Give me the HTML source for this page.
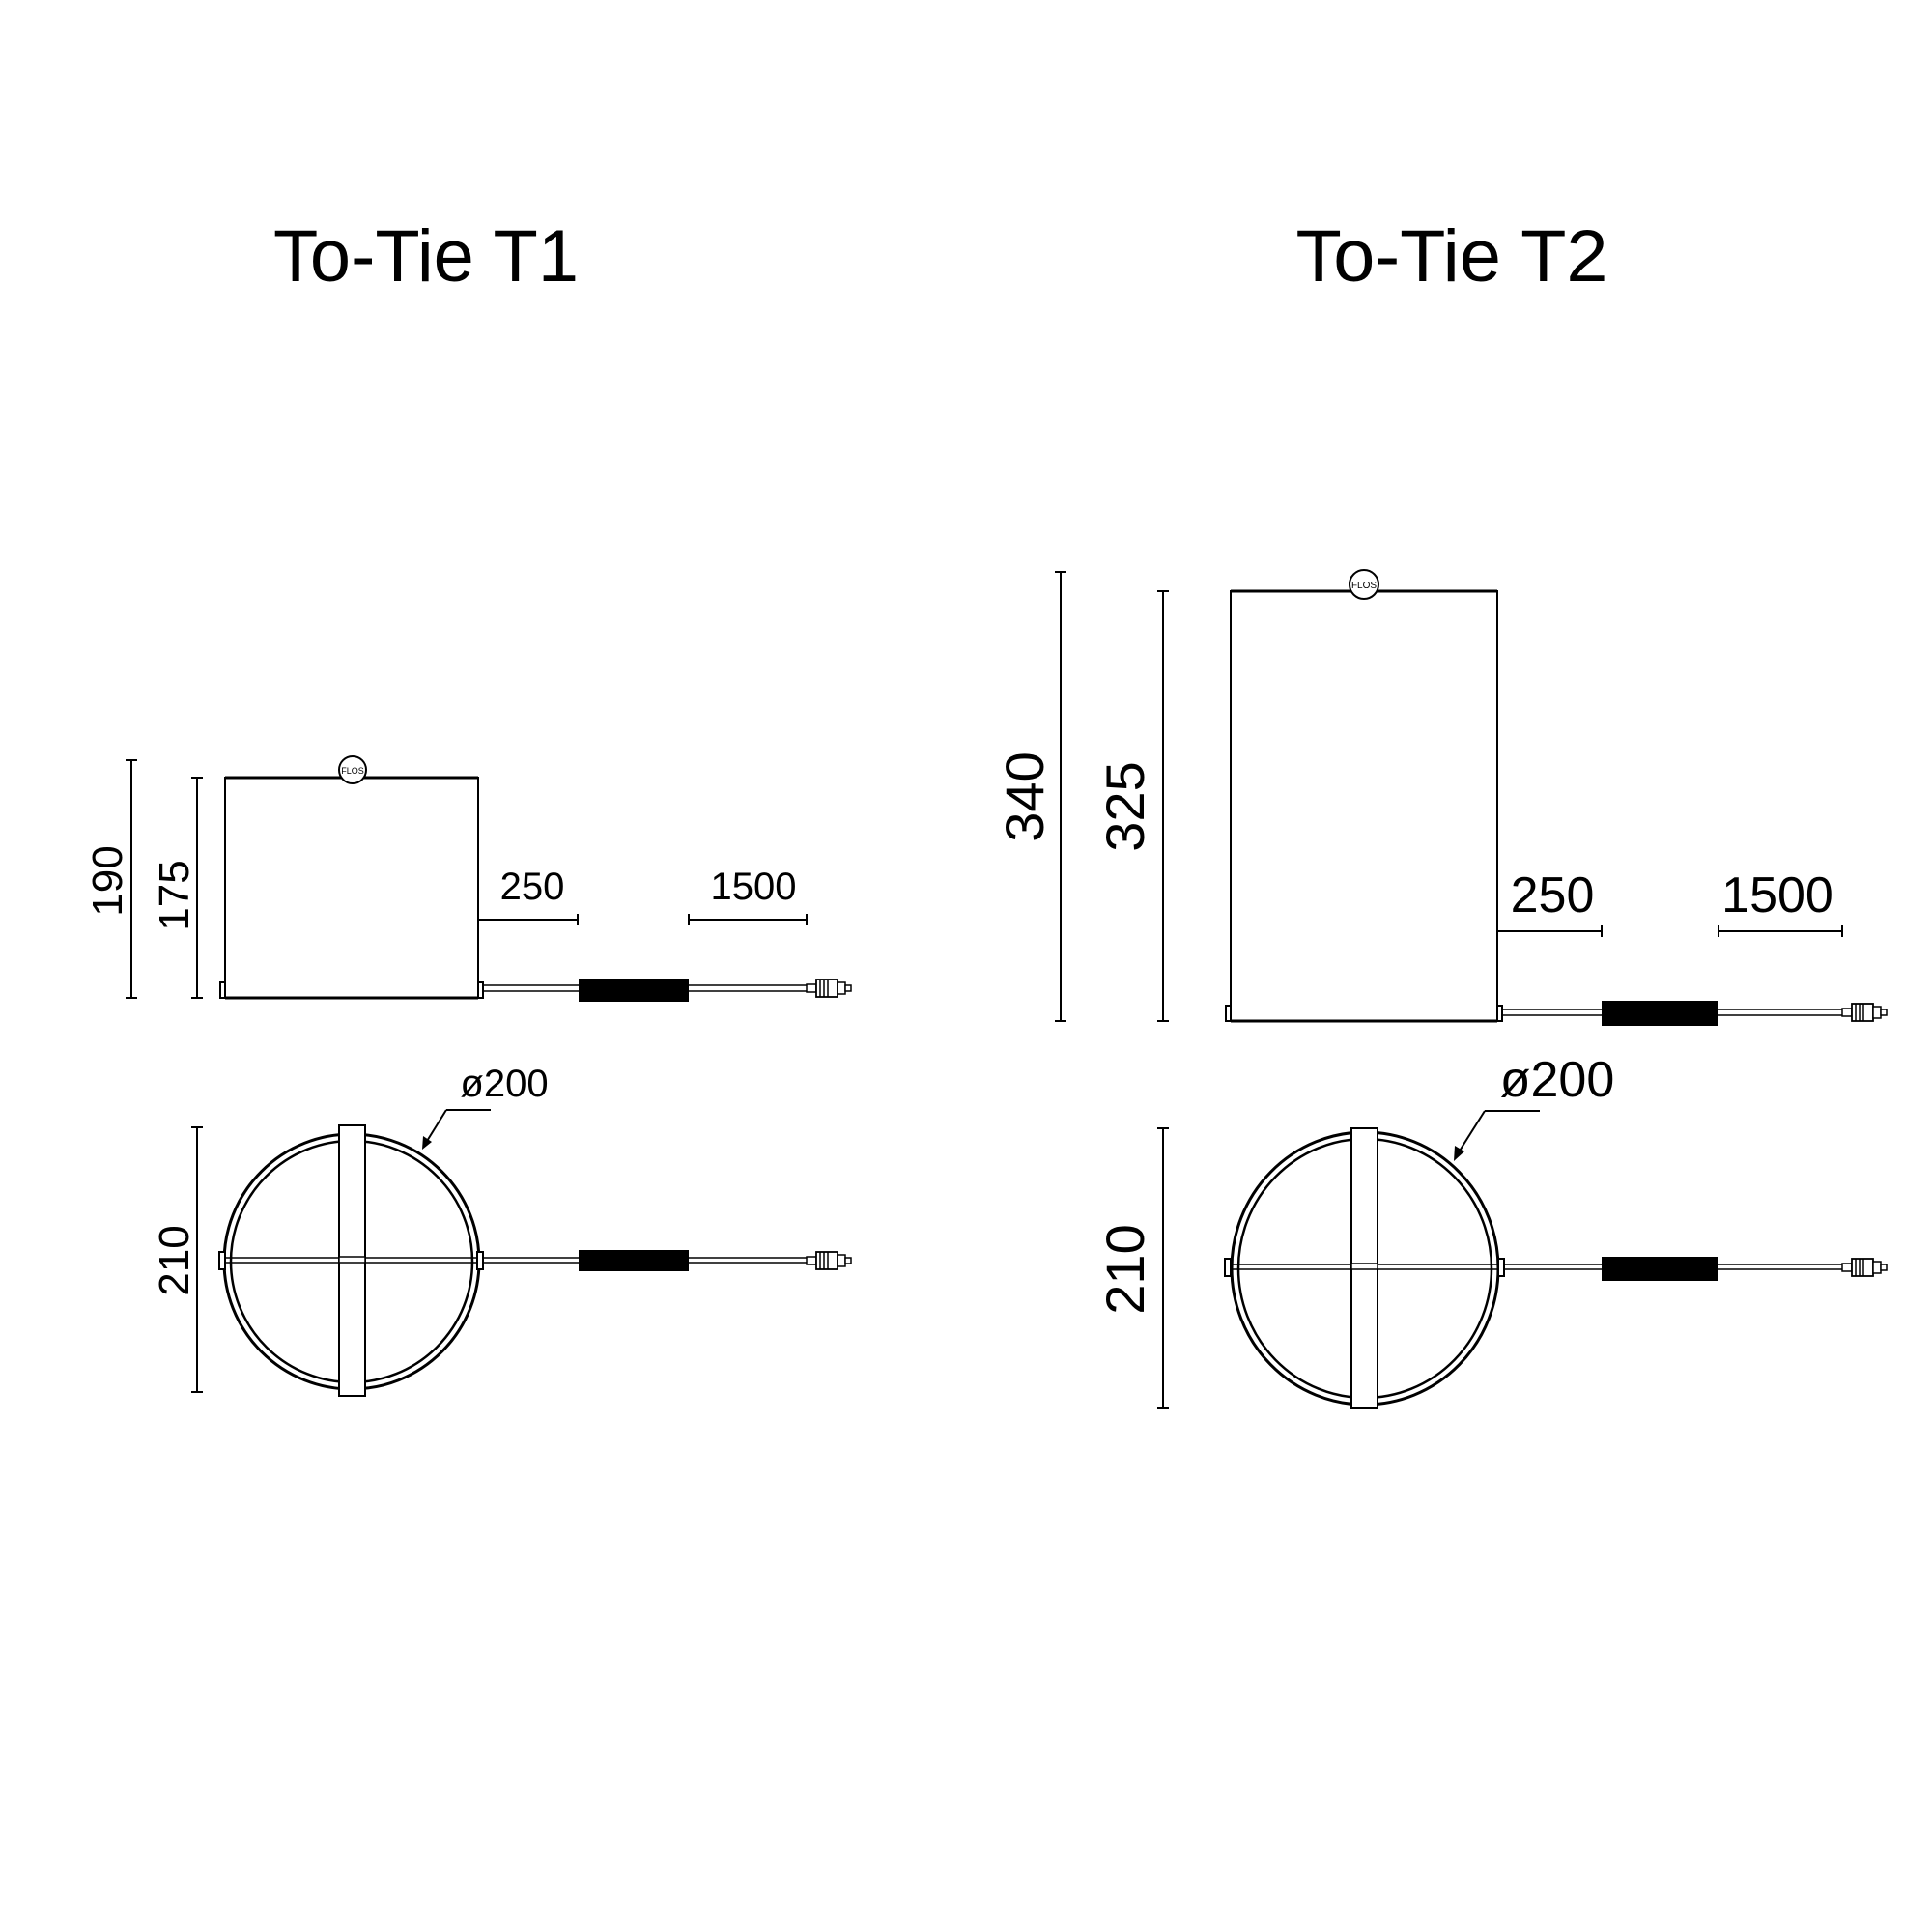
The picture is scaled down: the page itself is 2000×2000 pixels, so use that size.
<!DOCTYPE html>
<html><head><meta charset="utf-8"><style>html,body{margin:0;padding:0;background:#fff}svg{display:block}</style></head>
<body>
<svg width="2000" height="2000" viewBox="0 0 2000 2000" xmlns="http://www.w3.org/2000/svg" font-family="Liberation Sans, sans-serif" fill="none" stroke="#000">
<defs>
<g id="plug">
  <rect x="0" y="-4" width="10" height="8" fill="#fff" stroke-width="1.5"/>
  <rect x="10" y="-9" width="22" height="18" fill="#fff" stroke-width="1.8"/>
  <line x1="14" y1="-9" x2="14" y2="9" stroke-width="1.5"/>
  <line x1="18" y1="-9" x2="18" y2="9" stroke-width="1.5"/>
  <line x1="22" y1="-9" x2="22" y2="9" stroke-width="1.5"/>
  <rect x="32" y="-6" width="8" height="12" fill="#fff" stroke-width="1.5"/>
  <rect x="40" y="-3" width="6" height="6" fill="#fff" stroke-width="1.5"/>
</g>
</defs>

<!-- Titles -->
<text x="441" y="291" font-size="76" fill="#000" stroke="none" text-anchor="middle" textLength="316" lengthAdjust="spacingAndGlyphs">To-Tie T1</text>
<text x="1503" y="291" font-size="76" fill="#000" stroke="none" text-anchor="middle" textLength="323" lengthAdjust="spacingAndGlyphs">To-Tie T2</text>

<!-- ===== T1 side ===== -->
<g stroke-width="2">
  <line x1="136" y1="787" x2="136" y2="1033"/><line x1="130" y1="787" x2="142" y2="787"/><line x1="130" y1="1033" x2="142" y2="1033"/>
  <line x1="204" y1="805" x2="204" y2="1033"/><line x1="198" y1="805" x2="210" y2="805"/><line x1="198" y1="1033" x2="210" y2="1033"/>
  <rect x="233" y="805" width="262" height="228"/>
  <line x1="233" y1="805" x2="495" y2="805" stroke-width="3"/>
  <line x1="233" y1="1033" x2="495" y2="1033" stroke-width="3"/>
  <circle cx="365" cy="797" r="14" fill="#fff"/>
  <rect x="228" y="1017" width="5" height="16"/><rect x="495" y="1017" width="5" height="16"/>
  <line x1="495" y1="952" x2="598" y2="952"/><line x1="598" y1="946" x2="598" y2="958"/>
  <line x1="713" y1="952" x2="835" y2="952"/><line x1="713" y1="946" x2="713" y2="958"/><line x1="835" y1="946" x2="835" y2="958"/>
  <line x1="500" y1="1020" x2="600" y2="1020" stroke-width="1.5"/><line x1="500" y1="1026" x2="600" y2="1026" stroke-width="1.5"/>
  <rect x="600" y="1014" width="112" height="22" fill="#000"/>
  <line x1="712" y1="1020" x2="835" y2="1020" stroke-width="1.5"/><line x1="712" y1="1026" x2="835" y2="1026" stroke-width="1.5"/>
</g>
<use href="#plug" transform="translate(835,1023)"/>
<g fill="#000" stroke="none">
  <text transform="translate(126,912) rotate(-90)" font-size="44" text-anchor="middle">190</text>
  <text transform="translate(195,927) rotate(-90)" font-size="44" text-anchor="middle">175</text>
  <text x="551" y="931" font-size="40" text-anchor="middle">250</text>
  <text x="780" y="931" font-size="40" text-anchor="middle">1500</text>
  <text x="365" y="801" font-size="9" text-anchor="middle">FLOS</text>
</g>

<!-- ===== T1 top ===== -->
<g stroke-width="2">
  <line x1="204" y1="1167" x2="204" y2="1441"/><line x1="198" y1="1167" x2="210" y2="1167"/><line x1="198" y1="1441" x2="210" y2="1441"/>
  <circle cx="364" cy="1306" r="132" stroke-width="3"/>
  <circle cx="364" cy="1306" r="125" stroke-width="2.5"/>
  <line x1="232" y1="1302" x2="496" y2="1302" stroke-width="1.5"/><line x1="232" y1="1307" x2="496" y2="1307" stroke-width="1.5"/>
  <rect x="351" y="1165" width="27" height="280" fill="#fff"/>
  <rect x="351" y="1301" width="27" height="6" fill="#fff" stroke-width="1.5"/>
  <rect x="227" y="1296" width="6" height="18" fill="#fff"/><rect x="494" y="1296" width="6" height="18" fill="#fff"/>
  <line x1="500" y1="1302" x2="600" y2="1302" stroke-width="1.5"/><line x1="500" y1="1307" x2="600" y2="1307" stroke-width="1.5"/>
  <rect x="600" y="1295" width="112" height="20" fill="#000"/>
  <line x1="712" y1="1302" x2="835" y2="1302" stroke-width="1.5"/><line x1="712" y1="1307" x2="835" y2="1307" stroke-width="1.5"/>
  <line x1="462" y1="1149" x2="508" y2="1149"/>
  <line x1="462" y1="1149" x2="439" y2="1186"/>
</g>
<polygon points="437,1190 438,1176 447,1182" fill="#000" stroke="none"/>
<use href="#plug" transform="translate(835,1305)"/>
<g fill="#000" stroke="none">
  <text transform="translate(195,1305) rotate(-90)" font-size="44" text-anchor="middle">210</text>
  <text x="522" y="1135" font-size="40" text-anchor="middle">ø200</text>
</g>

<!-- ===== T2 side ===== -->
<g stroke-width="2">
  <line x1="1098" y1="592" x2="1098" y2="1057"/><line x1="1092" y1="592" x2="1104" y2="592"/><line x1="1092" y1="1057" x2="1104" y2="1057"/>
  <line x1="1204" y1="612" x2="1204" y2="1057"/><line x1="1198" y1="612" x2="1210" y2="612"/><line x1="1198" y1="1057" x2="1210" y2="1057"/>
  <rect x="1274" y="612" width="276" height="445"/>
  <line x1="1274" y1="612" x2="1550" y2="612" stroke-width="3"/>
  <line x1="1274" y1="1057" x2="1550" y2="1057" stroke-width="3"/>
  <circle cx="1412" cy="605" r="15" fill="#fff"/>
  <rect x="1269" y="1041" width="5" height="16"/><rect x="1550" y="1041" width="5" height="16"/>
  <line x1="1550" y1="964" x2="1658" y2="964"/><line x1="1658" y1="958" x2="1658" y2="970"/>
  <line x1="1779" y1="964" x2="1907" y2="964"/><line x1="1779" y1="958" x2="1779" y2="970"/><line x1="1907" y1="958" x2="1907" y2="970"/>
  <line x1="1555" y1="1045" x2="1659" y2="1045" stroke-width="1.5"/><line x1="1555" y1="1051" x2="1659" y2="1051" stroke-width="1.5"/>
  <rect x="1659" y="1037" width="118" height="24" fill="#000"/>
  <line x1="1777" y1="1045" x2="1907" y2="1045" stroke-width="1.5"/><line x1="1777" y1="1051" x2="1907" y2="1051" stroke-width="1.5"/>
</g>
<use href="#plug" transform="translate(1907,1048)"/>
<g fill="#000" stroke="none">
  <text transform="translate(1080,825) rotate(-90)" font-size="56" text-anchor="middle">340</text>
  <text transform="translate(1184,835) rotate(-90)" font-size="56" text-anchor="middle">325</text>
  <text x="1607" y="944" font-size="52" text-anchor="middle">250</text>
  <text x="1840" y="944" font-size="52" text-anchor="middle">1500</text>
  <text x="1412" y="609" font-size="10" text-anchor="middle">FLOS</text>
</g>

<!-- ===== T2 top ===== -->
<g stroke-width="2">
  <line x1="1204" y1="1168" x2="1204" y2="1458"/><line x1="1198" y1="1168" x2="1210" y2="1168"/><line x1="1198" y1="1458" x2="1210" y2="1458"/>
  <ellipse cx="1413" cy="1313" rx="138" ry="141" stroke-width="3"/>
  <ellipse cx="1413" cy="1313" rx="131" ry="134" stroke-width="2.5"/>
  <line x1="1272" y1="1309" x2="1555" y2="1309" stroke-width="1.5"/><line x1="1272" y1="1314" x2="1555" y2="1314" stroke-width="1.5"/>
  <rect x="1399" y="1168" width="27" height="290" fill="#fff"/>
  <rect x="1399" y="1308" width="27" height="6" fill="#fff" stroke-width="1.5"/>
  <rect x="1268" y="1303" width="6" height="18" fill="#fff"/><rect x="1551" y="1303" width="6" height="18" fill="#fff"/>
  <line x1="1557" y1="1309" x2="1659" y2="1309" stroke-width="1.5"/><line x1="1557" y1="1314" x2="1659" y2="1314" stroke-width="1.5"/>
  <rect x="1659" y="1302" width="118" height="23" fill="#000"/>
  <line x1="1777" y1="1309" x2="1907" y2="1309" stroke-width="1.5"/><line x1="1777" y1="1314" x2="1907" y2="1314" stroke-width="1.5"/>
  <line x1="1537" y1="1150" x2="1594" y2="1150"/>
  <line x1="1537" y1="1150" x2="1508" y2="1196"/>
</g>
<polygon points="1505,1202 1506,1186 1516,1192" fill="#000" stroke="none"/>
<use href="#plug" transform="translate(1907,1312)"/>
<g fill="#000" stroke="none">
  <text transform="translate(1184,1314) rotate(-90)" font-size="56" text-anchor="middle">210</text>
  <text x="1612" y="1135" font-size="52" text-anchor="middle">ø200</text>
</g>
</svg>
</body></html>
